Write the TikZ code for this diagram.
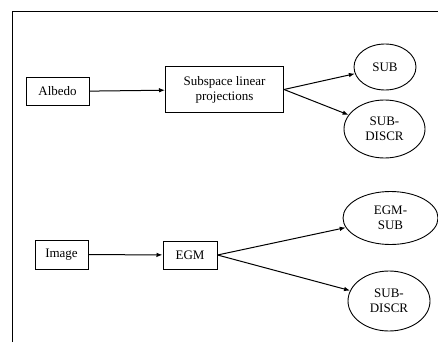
\documentclass[tikz,border=0pt]{standalone}
\usepackage{fontspec}
\setmainfont{Liberation Serif}
\usetikzlibrary{arrows.meta,calc,shapes.geometric}

\begin{document}
\begin{tikzpicture}[
		x=1pt, y=-1pt,
		font=\fontsize{13}{15}\selectfont,
		box/.style={rectangle, draw=black, line width=1pt, align=center, inner sep=2pt},
		oval/.style={ellipse, draw=black, line width=0.9pt, align=center, inner sep=0pt},
		arrow/.style={line width=1pt, -{Latex[length=6pt, width=4.5pt]}}
		]
		\useasboundingbox (0,0) rectangle (438,342);
		\draw[line width=1pt] (12,342) -- (12,12) -- (438,12);
		
		\node (albedo) at (57.5, 91.5) [box, minimum width=63pt, minimum height=27pt] {Albedo};
		\node (subspace) at (224.5, 89.5) [box, minimum width=118pt, minimum height=45pt] {Subspace linear\\projections};
		\node (sub) at (385, 67) [oval, minimum width=62pt, minimum height=46pt] {SUB};
		\node (subdiscr) at (384.5, 129) [oval, minimum width=81pt, minimum height=58pt] {SUB-\\DISCR};
		
		\node (image) at (61.5, 254.5) [box, minimum width=53pt, minimum height=29pt] {Image};
		\node (egm) at (190, 255) [box, minimum width=54pt, minimum height=28pt] {EGM};
		\node (egmsub) at (390.5, 218) [oval, minimum width=95pt, minimum height=53pt] {EGM-\\SUB};
		\node (subdiscr2) at (389, 301) [oval, minimum width=82pt, minimum height=60pt] {SUB-\\DISCR};
		
		\draw [arrow] (albedo) -- (subspace);
		\draw [arrow] (subspace.east) -- (sub);
		\draw [arrow] (subspace.east) -- (subdiscr);
		\draw [arrow] (image) -- (egm);
		\draw [arrow] (egm.east) -- (egmsub);
		\draw [arrow] (egm.east) -- (subdiscr2);
	\end{tikzpicture}
\end{document}
